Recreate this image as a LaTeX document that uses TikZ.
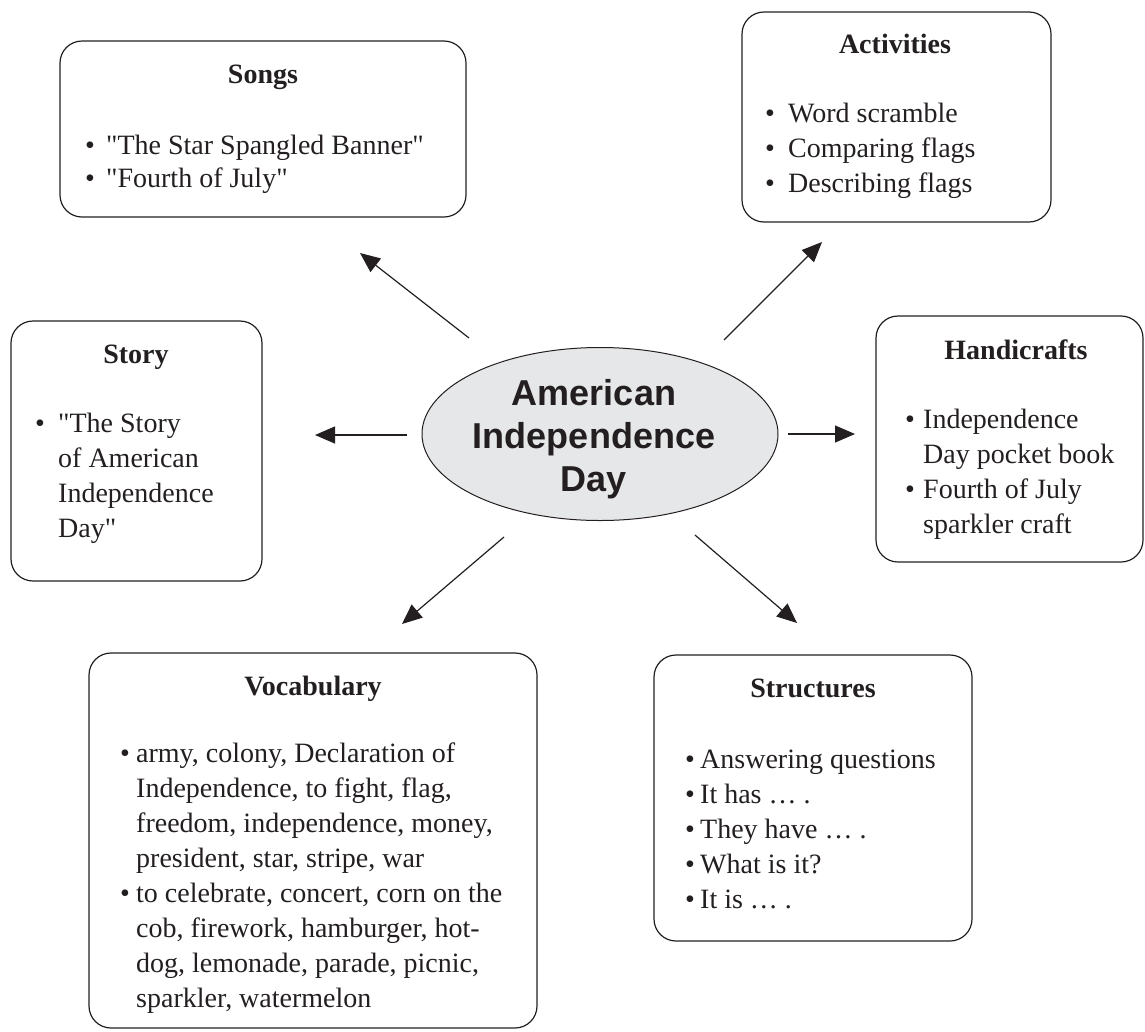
\documentclass[tikz,border=0pt]{standalone}
\usepackage{fontspec}
\setmainfont{Liberation Serif}[Ligatures=TeXOff]
\setsansfont{Liberation Sans}
\usetikzlibrary{shapes.geometric,arrows.meta}
\definecolor{ink}{HTML}{231F20}
\definecolor{ellfill}{HTML}{E6E7E8}
\newcommand\bul[1]{\makebox[#1pt][l]{•}}
\newcommand\ind[1]{\hspace*{#1pt}}
\begin{document}
\begin{tikzpicture}[x=1pt,y=-1pt,
  box/.style={draw=ink, line width=1.2pt, rounded corners=22pt, inner sep=0pt},
  txt/.style={inner sep=0pt, text=ink, font=\fontsize{28}{35}\selectfont, anchor=base west},
  ttl/.style={inner sep=0pt, text=ink, font=\bfseries\fontsize{28}{35}\selectfont, anchor=base},
  arr/.style={draw=ink, line width=1.2pt, -{Triangle[length=20pt,width=17pt]}}]
\useasboundingbox (0,0) rectangle (1145,1031);

% boxes
\node[box, minimum width=406pt, minimum height=176pt] (songs) at (263,129) {};
\node[box, minimum width=309pt, minimum height=210pt] (acts) at (896.5,117) {};
\node[box, minimum width=251pt, minimum height=260pt] (story) at (136.5,451) {};
\node[box, minimum width=267pt, minimum height=246pt] (hand) at (1009.5,439) {};
\node[box, minimum width=448pt, minimum height=375pt] (vocab) at (313,840.5) {};
\node[box, minimum width=318pt, minimum height=286pt] (struct) at (813,798) {};

% centre
\node[ellipse, draw=ink, line width=1pt, fill=ellfill, minimum width=356pt, minimum height=173pt, inner sep=0pt] (c) at (600,434) {};
\node[inner sep=0pt, text=ink, anchor=base, font=\sffamily\bfseries\fontsize{36}{43}\selectfont] (ctext) at (594,405)
  {\begin{tabular}[t]{@{}c@{}}American\\Independence\\Day\end{tabular}};

% titles
\node[ttl] (songsT) at (263,83) {Songs};
\node[ttl] (actsT) at (895,53) {Activities};
\node[ttl] (storyT) at (136,363) {Story};
\node[ttl] (handT) at (1016,359) {Handicrafts};
\node[ttl] (vocabT) at (313,695) {Vocabulary};
\node[ttl] (structT) at (813,697) {Structures};

% bullet texts
\node[txt, font=\fontsize{28}{33}\selectfont] (songsL) at (85,154) {\begin{tabular}[t]{@{}l@{}}
\bul{21}"The Star Spangled Banner"\\
\bul{21}"Fourth of July"\end{tabular}};
\node[txt] (actsL) at (765,122) {\begin{tabular}[t]{@{}l@{}}
\bul{23}Word scramble\\
\bul{23}Comparing flags\\
\bul{23}Describing flags\end{tabular}};
\node[txt] (storyL) at (35,432) {\begin{tabular}[t]{@{}l@{}}
\bul{23}"The Story\\
\ind{23}of American\\
\ind{23}Independence\\
\ind{23}Day"\end{tabular}};
\node[txt] (handL) at (905,428) {\begin{tabular}[t]{@{}l@{}}
\bul{18}Independence\\
\ind{18}Day pocket book\\
\bul{18}Fourth of July\\
\ind{18}sparkler craft\end{tabular}};
\node[txt] (vocabL) at (120,762) {\begin{tabular}[t]{@{}l@{}}
\bul{16}army, colony, Declaration of\\
\ind{16}Independence, to fight, flag,\\
\ind{16}freedom, independence, money,\\
\ind{16}president, star, stripe, war\\
\bul{16}to celebrate, concert, corn on the\\
\ind{16}cob, firework, hamburger, hot-\\
\ind{16}dog, lemonade, parade, picnic,\\
\ind{16}sparkler, watermelon\end{tabular}};
\node[txt] (structL) at (685,768) {\begin{tabular}[t]{@{}l@{}}
\bul{15}Answering questions\\
\bul{15}It has … .\\
\bul{15}They have … .\\
\bul{15}What is it?\\
\bul{15}It is … .\end{tabular}};

% arrows
\coordinate (s1) at (469,338); \coordinate (e1) at (360,253);
\coordinate (s2) at (724,340); \coordinate (e2) at (822,242);
\coordinate (s3) at (407,435); \coordinate (e3) at (315,435);
\coordinate (s4) at (788,434); \coordinate (e4) at (855,434);
\coordinate (s5) at (504,537); \coordinate (e5) at (402,624);
\coordinate (s6) at (695,535); \coordinate (e6) at (797,623);
\draw[arr] (s1) -- (e1);
\draw[arr] (s2) -- (e2);
\draw[arr] (s3) -- (e3);
\draw[arr] (s4) -- (e4);
\draw[arr] (s5) -- (e5);
\draw[arr] (s6) -- (e6);
\end{tikzpicture}
\end{document}
